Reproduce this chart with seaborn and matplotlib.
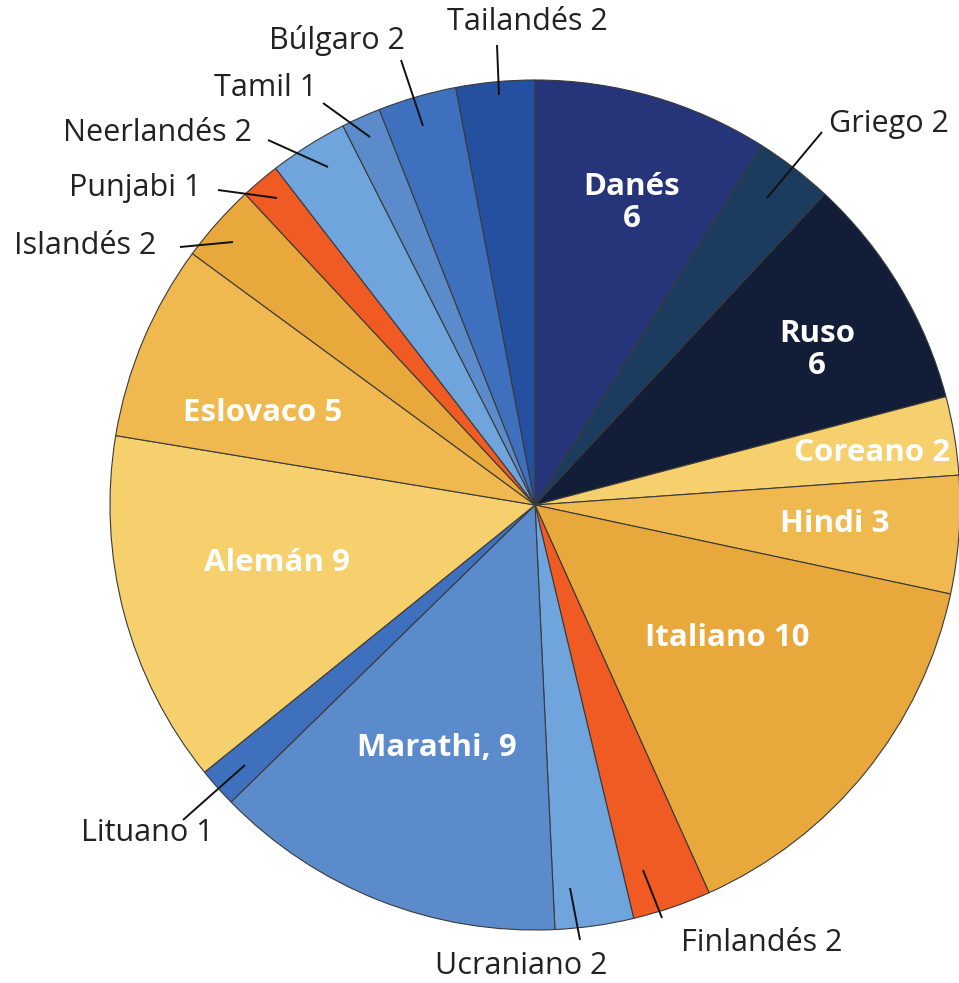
import matplotlib
matplotlib.use("Agg")
import matplotlib.pyplot as plt
import seaborn as sns

# ---- data ----
languages = ["Danés", "Griego", "Ruso", "Coreano", "Hindi", "Italiano", "Finlandés",
             "Ucraniano", "Marathi", "Lituano", "Alemán", "Eslovaco", "Islandés",
             "Punjabi", "Neerlandés", "Tamil", "Búlgaro", "Tailandés"]
counts = [6, 2, 6, 2, 3, 10, 2, 2, 9, 1, 9, 5, 2, 1, 2, 1, 2, 2]
label_texts = ["Danés\n6", "Griego 2", "Ruso\n6", "Coreano 2", "Hindi 3", "Italiano 10",
               "Finlandés 2", "Ucraniano 2", "Marathi, 9", "Lituano 1", "Alemán 9",
               "Eslovaco 5", "Islandés 2", "Punjabi 1", "Neerlandés 2", "Tamil 1",
               "Búlgaro 2", "Tailandés 2"]

# ---- styles ----
colors = ["#26347a", "#1b3c5e", "#121d38", "#f6d06c", "#f0b94f", "#e9a83b", "#f05a23",
          "#6fa4dc", "#5c8bcb", "#3f70be", "#f5d06c", "#f0b94f", "#e9a83b",
          "#f05a23", "#6fa4dc", "#5c8bcb", "#3f70be", "#2550a0"]

W, H = 959, 983
# label layout in image pixel coordinates (x, y from top)
inner_pos = {
    "Danés": (632, 203), "Ruso": (817, 350), "Coreano": (872, 453),
    "Hindi": (835, 524), "Italiano": (727, 638), "Marathi": (437, 748),
    "Alemán": (277, 563), "Eslovaco": (263, 413),
}
outer_pos = {
    "Griego": ((889, 124), (822, 132), (767, 198)),
    "Tailandés": ((527, 22), (497, 45), (499, 95)),
    "Búlgaro": ((337, 40), (401, 60), (423, 126)),
    "Tamil": ((266, 88), (323, 103), (370, 137)),
    "Neerlandés": ((157, 133), (268, 140), (328, 167)),
    "Punjabi": ((135, 188), (218, 190), (277, 198)),
    "Islandés": ((85, 246), (180, 247), (233, 242)),
    "Lituano": ((147, 833), (183, 820), (245, 765)),
    "Ucraniano": ((521, 966), (580, 940), (570, 888)),
    "Finlandés": ((762, 943), (662, 918), (643, 870)),
}

sns.set_theme(style="white")
plt.rcParams["font.family"] = ["Open Sans", "DejaVu Sans"]

fig = plt.figure(figsize=(W / 100, H / 100), dpi=100)
ax = fig.add_axes([0, 0, 1, 1])

ax.pie(counts, colors=colors, startangle=90, counterclock=False,
       center=(535, H - 505), radius=425, frame=True,
       wedgeprops=dict(edgecolor="#3a3a3a", linewidth=0.8))

ax.set_xlim(0, W)
ax.set_ylim(0, H)
ax.set_aspect("equal")
ax.axis("off")

for lang, txt in zip(languages, label_texts):
    if lang in inner_pos:
        x, y = inner_pos[lang]
        ax.text(x, H - y, txt, ha="center", va="center", color="white",
                fontsize=22.5, fontweight="bold", linespacing=1.1)
    else:
        (tx, ty), (x0, y0), (x1, y1) = outer_pos[lang]
        ax.text(tx, H - ty, txt, ha="center", va="center", color="#222222",
                fontsize=22)
        ax.plot([x0, x1], [H - y0, H - y1], color="#111111", lw=1.4,
                solid_capstyle="butt")

fig.savefig("out.png", dpi=100)
